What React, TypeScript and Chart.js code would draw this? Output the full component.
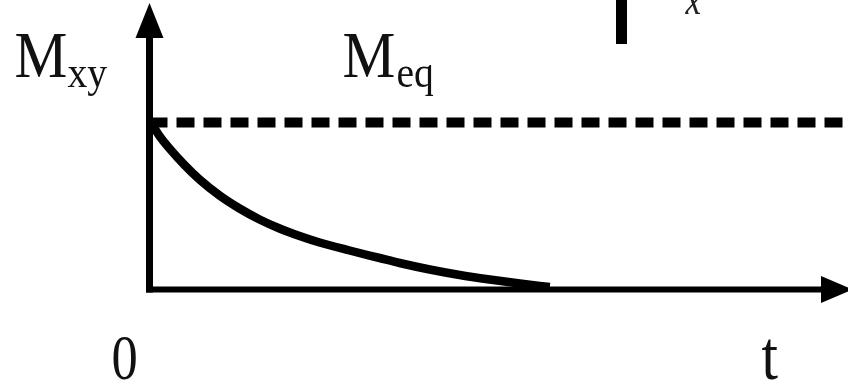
import { useEffect, useRef } from 'react';
import { Chart, registerables } from 'chart.js';

Chart.register(...registerables);

// Time (arbitrary units) and transverse magnetisation
const T_VALUES = [0.03, 0.1, 0.2, 0.35, 0.5, 0.7, 0.9, 1.1, 1.3, 1.5, 1.7, 2.0, 2.3, 2.5, 2.8, 3.1, 3.4, 3.7, 4.0];
const MXY_VALUES = [1.645, 1.535, 1.41, 1.245, 1.1, 0.94, 0.81, 0.7, 0.61, 0.535, 0.47, 0.39, 0.315, 0.265, 0.2, 0.145, 0.1, 0.06, 0.025];
const MEQ_T = [0, 6.98];
const MEQ_VALUES = [1.67, 1.67];
const T_MAX = 6.98;
const Y_MAX = 2.795;

const Y_LABEL = ['M', 'xy'];
const EQ_LABEL = ['M', 'eq'];
const ORIGIN_LABEL = '0';
const X_LABEL = 't';
const CORNER_LABEL = 'x';

const SERIF = '"Liberation Serif", "Times New Roman", serif';

function scaledText(ctx: CanvasRenderingContext2D, text: string, x: number, y: number, font: string, sx: number) {
  ctx.save();
  ctx.font = font;
  ctx.translate(x, y);
  ctx.scale(sx, 1);
  ctx.fillText(text, 0, 0);
  ctx.restore();
}

const diagramPlugin = {
  id: 'diagram',
  beforeDatasetsDraw(chart: any) {
    const ctx: CanvasRenderingContext2D = chart.ctx;
    const xs = chart.scales.x;
    const ys = chart.scales.y;
    const x0 = xs.getPixelForValue(0);
    const y0 = ys.getPixelForValue(0);
    const right = xs.getPixelForValue(T_MAX);
    const top = ys.getPixelForValue(Y_MAX);
    ctx.save();
    ctx.fillStyle = '#000';
    // vertical axis
    ctx.fillRect(x0 - 3.5, top + 24, 7, y0 + 3 - (top + 24));
    ctx.beginPath();
    ctx.moveTo(x0, top - 7);
    ctx.lineTo(x0 - 14, top + 28);
    ctx.lineTo(x0 + 14, top + 28);
    ctx.closePath();
    ctx.fill();
    // horizontal axis
    ctx.fillRect(x0 - 3.5, y0 - 3, right - 26 - (x0 - 3.5), 6);
    ctx.beginPath();
    ctx.moveTo(right - 27, y0 - 13.5);
    ctx.lineTo(right + 5, y0);
    ctx.lineTo(right - 27, y0 + 13.5);
    ctx.closePath();
    ctx.fill();
    ctx.restore();
  },
  afterDraw(chart: any) {
    const ctx: CanvasRenderingContext2D = chart.ctx;
    const xs = chart.scales.x;
    const ys = chart.scales.y;
    const x0 = xs.getPixelForValue(0);
    const y0 = ys.getPixelForValue(0);
    ctx.save();
    ctx.fillStyle = '#111';
    ctx.textBaseline = 'alphabetic';
    ctx.textAlign = 'left';
    const big = `66px ${SERIF}`;
    const small = `44px ${SERIF}`;
    // M_xy
    scaledText(ctx, Y_LABEL[0], x0 - 135, 77, big, 0.9);
    scaledText(ctx, Y_LABEL[1], x0 - 82, 87, small, 0.9);
    // M_eq
    scaledText(ctx, EQ_LABEL[0], x0 + 193, 77, big, 0.9);
    scaledText(ctx, EQ_LABEL[1], x0 + 247, 87, small, 0.9);
    // 0 and t
    scaledText(ctx, ORIGIN_LABEL, x0 - 38, y0 + 89, `64px ${SERIF}`, 0.82);
    scaledText(ctx, X_LABEL, x0 + 612, y0 + 89, `70px ${SERIF}`, 0.85);
    // fragment at top: bar and italic x
    ctx.fillStyle = '#000';
    ctx.fillRect(x0 + 466.5, 0, 11, 44);
    ctx.fillStyle = '#222';
    scaledText(ctx, CORNER_LABEL, x0 + 536, 14, `italic 44px ${SERIF}`, 0.8);
    ctx.restore();
  },
};

export default function App() {
  const ref = useRef<HTMLCanvasElement | null>(null);
  useEffect(() => {
    document.body.style.margin = '0';
    const canvas = ref.current;
    if (!canvas) return;
    const chart = new Chart(canvas, {
      type: 'line',
      data: {
        datasets: [
          {
            label: 'Mxy',
            data: T_VALUES.map((t, i) => ({ x: t, y: MXY_VALUES[i] })),
            borderColor: '#000',
            borderWidth: 8.5,
            pointRadius: 0,
            cubicInterpolationMode: 'monotone',
            fill: false,
          },
          {
            label: 'Meq',
            data: MEQ_T.map((t, i) => ({ x: t, y: MEQ_VALUES[i] })),
            borderColor: '#000',
            borderWidth: 10,
            borderDash: [18, 9],
            borderCapStyle: 'butt',
            pointRadius: 0,
            fill: false,
          },
        ],
      },
      options: {
        responsive: false,
        animation: false,
        events: [],
        layout: { padding: { left: 149.5, right: 0, top: 10, bottom: 90.5 } },
        scales: {
          x: { type: 'linear', min: 0, max: T_MAX, display: false },
          y: { type: 'linear', min: 0, max: Y_MAX, display: false },
        },
        plugins: {
          legend: { display: false },
          tooltip: { enabled: false },
        },
      },
      plugins: [diagramPlugin],
    });
    return () => chart.destroy();
  }, []);
  return (
    <div style={{ position: 'absolute', left: 0, top: 0, width: 848, height: 380, background: '#fff' }}>
      <canvas ref={ref} width={848} height={380} style={{ display: 'block' }} />
    </div>
  );
}
